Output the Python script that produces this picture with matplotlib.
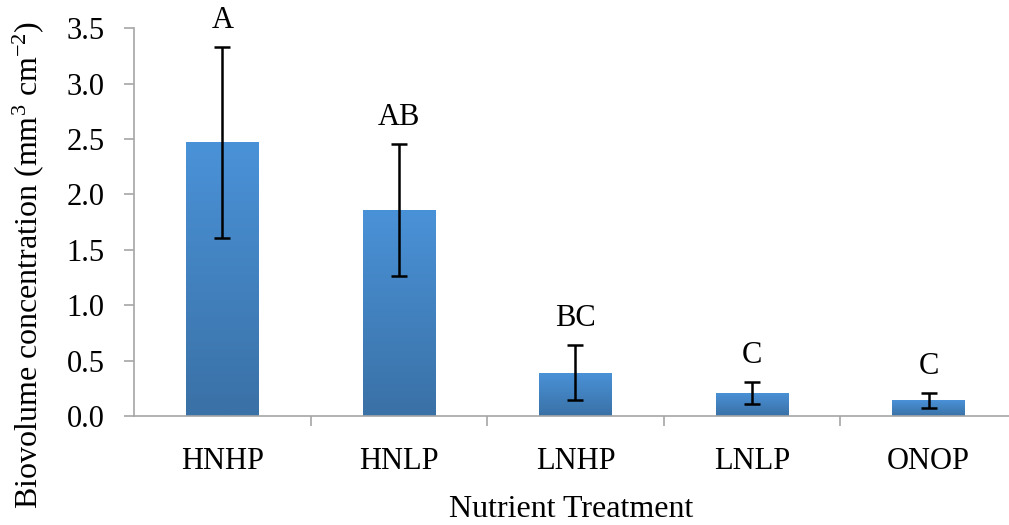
import numpy as np
import matplotlib
matplotlib.use("Agg")
import matplotlib.pyplot as plt
from matplotlib.colors import LinearSegmentedColormap

# Biovolume per nutrient treatment (mean +/- error) with significance letters
treatments = ["HNHP", "HNLP", "LNHP", "LNLP", "ONOP"]
means = [2.47, 1.86, 0.39, 0.21, 0.14]
errors = [0.86, 0.60, 0.25, 0.10, 0.065]
letters = ["A", "AB", "BC", "C", "C"]

plt.rcParams["font.family"] = ["Liberation Serif", "DejaVu Serif"]
plt.rcParams["mathtext.fontset"] = "custom"
plt.rcParams["mathtext.rm"] = "Liberation Serif"
plt.rcParams["mathtext.it"] = "Liberation Serif:italic"
plt.rcParams["mathtext.default"] = "regular"

fig = plt.figure(figsize=(10.09, 5.25), dpi=100)
ax = fig.add_axes([134 / 1009, 109 / 525, 1 - 134 / 1009, 387.7 / 525])

x = np.arange(len(treatments))
width = 0.41
bars = ax.bar(x, means, width=width, color="none", edgecolor="none", zorder=2)

# vertical gradient fill for each bar
grad = LinearSegmentedColormap.from_list("bar", ["#3a71a6", "#4a92d8"])
gimg = np.linspace(0, 1, 256).reshape(-1, 1)
for b in bars:
    x0, y0 = b.get_x(), b.get_y()
    w, h = b.get_width(), b.get_height()
    im = ax.imshow(gimg, cmap=grad, origin="lower", aspect="auto",
                   extent=[x0, x0 + w, y0, y0 + h], zorder=2)
    im.set_clip_path(b)

ax.errorbar(x, means, yerr=errors, fmt="none", ecolor="black",
            elinewidth=1.8, capsize=6, capthick=1.8, zorder=3)

for xi, m, e, lab in zip(x, means, errors, letters):
    ax.text(xi, m + e + 0.17, lab, ha="center", va="baseline",
            fontsize=22, clip_on=False)

ax.set_xlim(-0.5, 4.455)
ax.set_ylim(0, 3.5)
ax.set_yticks(np.arange(0, 3.51, 0.5))
ax.set_yticklabels([f"{v:.1f}" for v in np.arange(0, 3.51, 0.5)])
ax.set_xticks(x)
ax.set_xticklabels(treatments)
ax.set_xticks(np.arange(0.5, 4.5, 1), minor=True)

for side in ["top", "right"]:
    ax.spines[side].set_visible(False)
for side in ["left", "bottom"]:
    ax.spines[side].set_color("#a6a6a6")
    ax.spines[side].set_linewidth(1.2)

ax.tick_params(axis="y", length=7, width=1.2, color="#a6a6a6",
               labelsize=22, pad=14)
ax.tick_params(axis="x", which="major", length=0, labelsize=22, pad=22)
ax.tick_params(axis="x", which="minor", length=7, width=1.2, color="#a6a6a6")

ax.set_xlabel("Nutrient Treatment", fontsize=23)
ax.xaxis.set_label_coords(0.5, -0.205)
ax.set_ylabel("Biovolume concentration (mm$^{3}$ cm$^{-2}$)", fontsize=23)
ax.yaxis.set_label_coords(-0.100, 0.39)

fig.savefig("out.png", dpi=100)
